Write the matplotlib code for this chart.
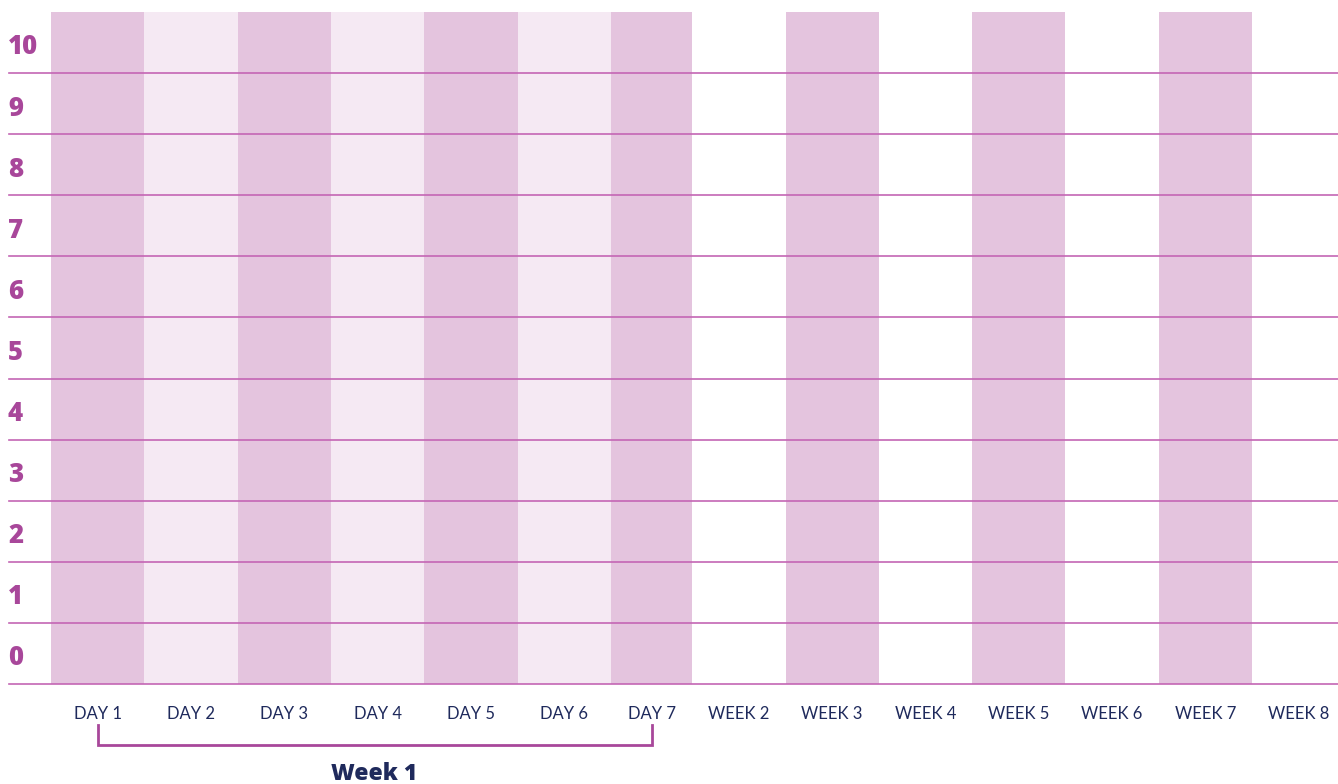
import matplotlib
matplotlib.use("Agg")
import matplotlib.pyplot as plt
from matplotlib.transforms import blended_transform_factory
import numpy as np

# ---- data ----
categories = ["DAY 1", "DAY 2", "DAY 3", "DAY 4", "DAY 5", "DAY 6", "DAY 7",
              "WEEK 2", "WEEK 3", "WEEK 4", "WEEK 5", "WEEK 6", "WEEK 7", "WEEK 8"]
shades = ["dark", "light", "dark", "light", "dark", "light", "dark",
          "none", "dark", "none", "dark", "none", "dark", "none"]
y_values = list(range(0, 11))
bracket_label = "Week 1"
bracket_span = ("DAY 1", "DAY 7")

# ---- style ----
W, H = 1338, 784
colors = {"dark": "#E4C4DE", "light": "#F5E9F3", "none": "#FFFFFF"}
line_c = "#C466B4"
purple = "#A8479A"
navy = "#1F2A5C"
widths = np.array([1.0] * 6 + [0.87] + [1.0] * 7)
lefts = np.concatenate([[0], np.cumsum(widths)[:-1]])
centers = lefts + widths / 2

plt.rcParams['font.family'] = ['Lato', 'DejaVu Sans']
fig = plt.figure(figsize=(W / 100, H / 100), dpi=100)
ax_l, ax_r, ax_t, ax_b = 51, 1338, 12, 684
ax = fig.add_axes([ax_l / W, (H - ax_b) / H, (ax_r - ax_l) / W, (ax_b - ax_t) / H])
px_per_unit = 93.33
ax.set_xlim(0, (ax_r - ax_l) / px_per_unit)
ax.set_ylim(-0.5, 10.5)
for s in ax.spines.values():
    s.set_visible(False)

ax.bar(lefts, 11, bottom=-0.5, width=widths, align='edge',
       color=[colors[s] for s in shades], linewidth=0, zorder=1)

# horizontal lines between rows, extending left under labels
x0 = (9 - ax_l) / (ax_r - ax_l)
for k in y_values:
    ax.axhline(k - 0.5, xmin=x0, xmax=1, color=line_c, lw=1.2, clip_on=False, zorder=2)

ax.set_yticks([])
ytr = ax.get_yaxis_transform()
xl = (8 - ax_l) / (ax_r - ax_l)
for v in y_values:
    ax.text(xl, v - 0.08, str(v), transform=ytr, ha='left', va='center',
            fontsize=18.5, fontweight=800, color=purple,
            family=['Open Sans', 'DejaVu Sans'])

ax.set_xticks(centers)
ax.set_xticklabels(categories, fontsize=12, color=navy)
ax.tick_params(axis='x', length=0, pad=16)

# bracket
btr = blended_transform_factory(ax.transData, ax.transAxes)
i0 = categories.index(bracket_span[0])
i1 = categories.index(bracket_span[1])
ya = (ax_b - 725) / (ax_b - ax_t)
yb = (ax_b - 745) / (ax_b - ax_t)
ax.plot([centers[i0], centers[i0], centers[i1], centers[i1]], [ya, yb, yb, ya],
        transform=btr, color=purple, lw=2, clip_on=False, solid_joinstyle='miter')
yw = (ax_b - 774) / (ax_b - ax_t)
ax.text((centers[i0] + centers[i1]) / 2, yw, bracket_label, transform=btr,
        ha='center', va='center', fontsize=16.5, fontweight=800, color=navy,
        family=['Open Sans', 'DejaVu Sans'])

fig.savefig("out.png", dpi=100)
